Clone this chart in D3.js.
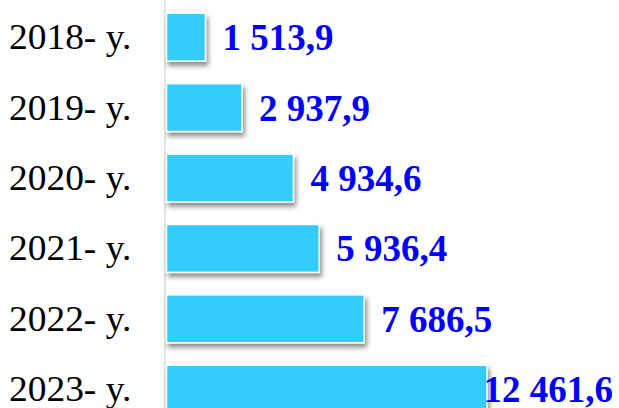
<!DOCTYPE html>
<html>
<head>
<meta charset="utf-8">
<script src="https://cdn.jsdelivr.net/npm/d3@7"></script>
<style>
  html, body { margin: 0; padding: 0; background: #fff; overflow: hidden; }
  svg { display: block; }
</style>
</head>
<body>
<svg id="chart" width="619" height="408"></svg>
<script>
// Data
const years = ['2018- y.', '2019- y.', '2020- y.', '2021- y.', '2022- y.', '2023- y.'];
const values = [1513.9, 2937.9, 4934.6, 5936.4, 7686.5, 12461.6];
const valueLabels = ['1 513,9', '2 937,9', '4 934,6', '5 936,4', '7 686,5', '12 461,6'];

const width = 619, height = 408;
const svg = d3.select('#chart');

// shadow under the bars
const defs = svg.append('defs');
defs.append('filter')
    .attr('id', 'shadow')
    .attr('x', '-10%').attr('y', '-20%')
    .attr('width', '130%').attr('height', '160%')
    .append('feDropShadow')
    .attr('dx', 2).attr('dy', 4)
    .attr('stdDeviation', 2.5)
    .attr('flood-color', '#000')
    .attr('flood-opacity', 0.45);

const x = d3.scaleLinear()
    .domain([0, d3.max(values)])
    .range([166.5, 487]);

const y = d3.scaleBand()
    .domain(years)
    .range([2, 2 + 6 * 70.4])
    .paddingInner(0.32)
    .paddingOuter(0.16);

// vertical axis line
svg.append('line')
    .attr('x1', 165).attr('x2', 165)
    .attr('y1', 0).attr('y2', height)
    .attr('stroke', '#d9d9d9')
    .attr('stroke-width', 1.5);

// bars
svg.selectAll('.bar')
    .data(values)
    .enter()
    .append('rect')
    .attr('class', 'bar')
    .attr('x', x(0))
    .attr('y', (d, i) => y(years[i]))
    .attr('width', d => x(d) - x(0))
    .attr('height', y.bandwidth())
    .attr('fill', '#33ccff')
    .attr('stroke', '#ffffff')
    .attr('stroke-width', 1.5)
    .attr('filter', 'url(#shadow)');

// category labels (slightly wider than the font, like the original)
svg.selectAll('.cat')
    .data(years)
    .enter()
    .append('text')
    .attr('class', 'cat')
    .attr('transform', d => `translate(9, ${y(d) + y.bandwidth() / 2 + 12}) scale(1.04, 1)`)
    .attr('font-family', '"Liberation Serif", "Times New Roman", serif')
    .attr('font-size', '36px')
    .attr('fill', '#000')
    .text(d => d);

// value labels
const labels = svg.selectAll('.val')
    .data(values)
    .enter()
    .append('text')
    .attr('class', 'val')
    .attr('y', (d, i) => y(years[i]) + y.bandwidth() / 2 + 13)
    .attr('font-family', '"Liberation Serif", "Times New Roman", serif')
    .attr('font-size', '37px')
    .attr('font-weight', 'bold')
    .attr('fill', '#0000ff')
    .text((d, i) => valueLabels[i]);

// place right of the bar, but keep inside the picture
labels.attr('x', function(d) {
    const w = this.getComputedTextLength();
    return Math.min(x(d) + 17, width - 6 - w);
});
</script>
</body>
</html>
